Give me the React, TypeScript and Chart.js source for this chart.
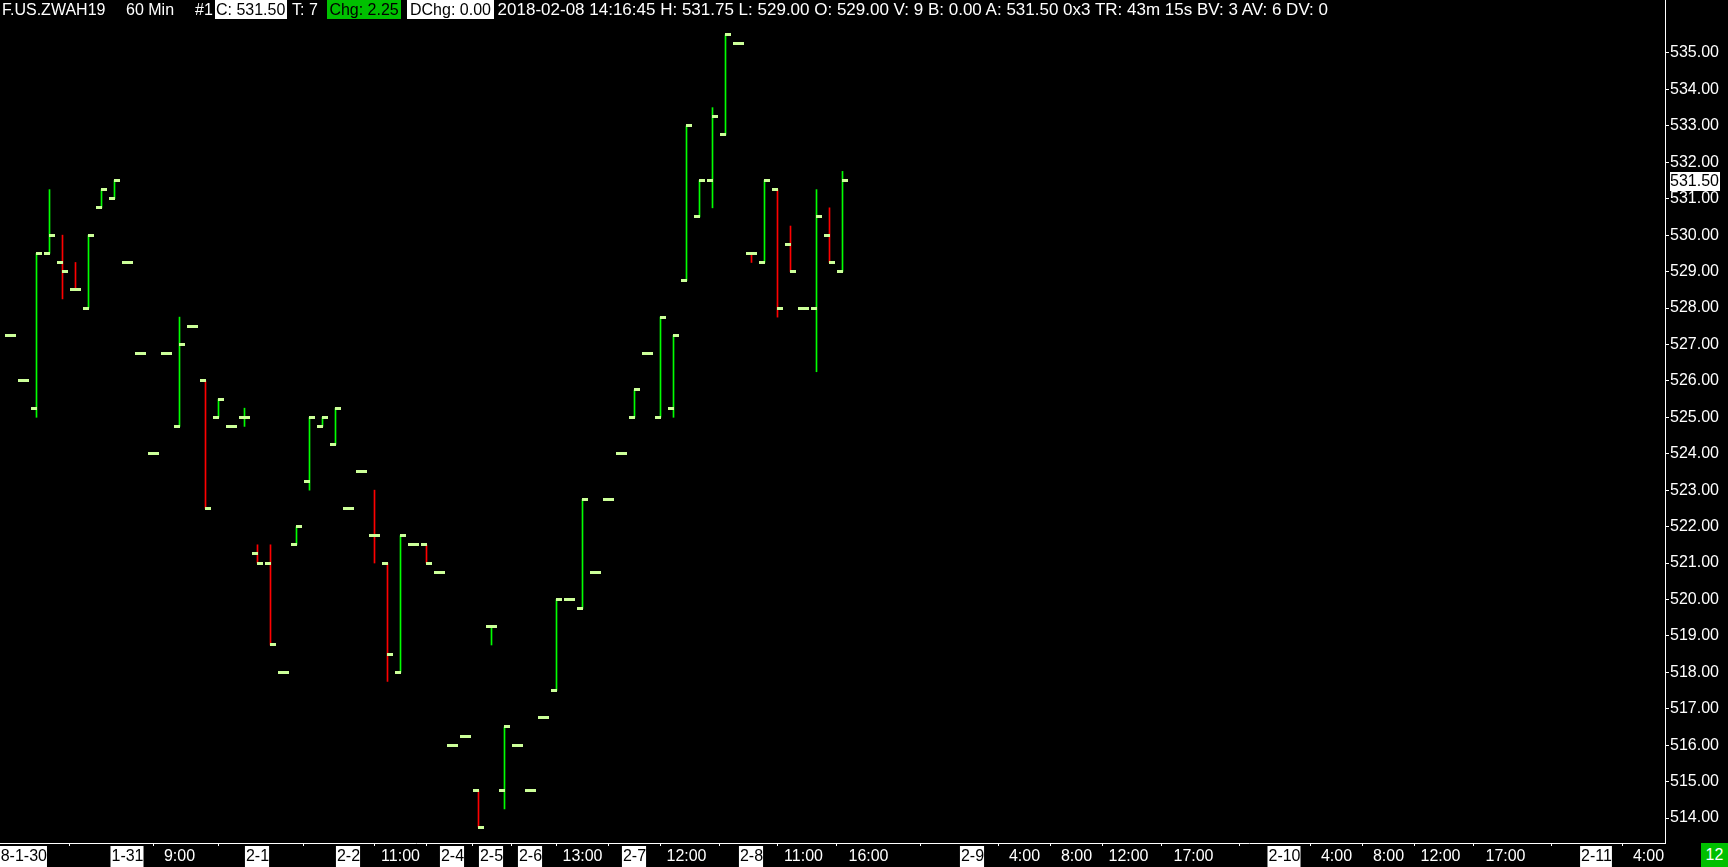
import React, { useEffect, useRef } from 'react';
import { Chart, registerables } from 'chart.js';

Chart.register(...registerables);

// ---- Data: hourly OHLC bars (bar index 0..64) ----
const opens = [
  527.25, 526, 525.25, 529.5, 529.25, 528.5, 528, 530.75, 531,
  529.25, 526.75, 524, 526.75, 524.75, 527.5, 526, 525, 524.75, 525,
  521.25, 521, 518, 521.5, 523.25, 524.75, 524.25,
  522.5, 523.5, 521.75, 521, 518, 521.5, 521.5, 520.75,
  516, 516.25, 514.75,
  519.25, 514.75, 516,
  514.75, 516.75, 517.5, 520, 519.75, 520.75, 522.75, 524,
  525, 526.75, 525, 525.25, 528.75, 530.5, 531.5, 532.75, 535.25,
  529.5, 529.25, 531.25, 529.75, 528, 528, 530, 529,
];
const highs = [
  527.25, 526, 529.5, 531.25, 530, 529.25, 530, 531.25, 531.5,
  529.25, 526.75, 524, 526.75, 527.75, 527.5, 526, 525.5, 524.75, 525.25,
  521.5, 521.5, 518, 522, 525, 525, 525.25,
  522.5, 523.5, 523, 521, 521.75, 521.5, 521.5, 520.75,
  516, 516.25, 514.75,
  519.25, 516.5, 516,
  514.75, 516.75, 520, 520, 522.75, 520.75, 522.75, 524,
  525.75, 526.75, 527.75, 527.25, 533, 531.5, 533.5, 535.5, 535.25,
  529.5, 531.5, 531.25, 530.25, 528, 531.25, 530.75, 531.75,
];
const lows = [
  527.25, 526, 525, 529.5, 528.25, 528.5, 528, 530.75, 531,
  529.25, 526.75, 524, 526.75, 524.75, 527.5, 522.5, 525, 524.75, 524.75,
  521, 518.75, 518, 521.5, 523, 524.75, 524.25,
  522.5, 523.5, 521, 517.75, 518, 521.5, 521, 520.75,
  516, 516.25, 513.75,
  518.75, 514.25, 516,
  514.75, 516.75, 517.5, 520, 519.75, 520.75, 522.75, 524,
  525, 526.75, 525, 525, 528.75, 530.5, 530.75, 532.75, 535.25,
  529.25, 529.25, 527.75, 529, 528, 526.25, 529.25, 529,
];
const closes = [
  527.25, 526, 529.5, 530, 529, 528.5, 530, 531.25, 531.5,
  529.25, 526.75, 524, 526.75, 527, 527.5, 522.5, 525.5, 524.75, 525,
  521, 518.75, 518, 522, 525, 525, 525.25,
  522.5, 523.5, 521.75, 518.5, 521.75, 521.5, 521, 520.75,
  516, 516.25, 513.75,
  519.25, 516.5, 516,
  514.75, 516.75, 520, 520, 522.75, 520.75, 522.75, 524,
  525.75, 526.75, 527.75, 527.25, 533, 531.5, 533.25, 535.5, 535.25,
  529.5, 531.5, 528, 529, 528, 530.5, 529.25, 531.5,
];

// ---- Time axis ticks (bar index -> label) ----
const timeTickIndex = [0, 9, 13, 19, 26, 30, 34, 37, 40, 44, 48, 52, 57, 61, 66, 74, 78, 82, 86, 91, 98, 102, 106, 110, 115, 122, 126];
const timeTickLabels = ['2018-1-30', '1-31', '9:00', '2-1', '2-2', '11:00', '2-4', '2-5', '2-6', '13:00', '2-7', '12:00', '2-8', '11:00', '16:00', '2-9', '4:00', '8:00', '12:00', '17:00', '2-10', '4:00', '8:00', '12:00', '17:00', '2-11', '4:00'];

// ---- Price axis ticks ----
const priceTicks = [514, 515, 516, 517, 518, 519, 520, 521, 522, 523, 524, 525, 526, 527, 528, 529, 530, 531, 532, 533, 534, 535];

// ---- Header text ----
const symbolText = 'F.US.ZWAH19';
const periodText = '60 Min';
const chartNumText = '#1';
const closeText = 'C: 531.50';
const tradesText = 'T: 7';
const changeText = 'Chg: 2.25';
const dayChangeText = 'DChg: 0.00';
const detailText = '2018-02-08 14:16:45 H: 531.75 L: 529.00 O: 529.00 V: 9 B: 0.00 A: 531.50 0x3 TR: 43m 15s BV: 3 AV: 6 DV: 0';
const cornerText = '12';

const FONT = '"Liberation Sans", Arial, sans-serif';
const UP = '#00ff00';
const DOWN = '#ff0000';
const TICK = '#ccff99';
const BOX_GREEN = '#00c000';

const isDateLabel = (s: string) => s.includes('-');

function tickImage(side: 'open' | 'close'): HTMLCanvasElement {
  const c = document.createElement('canvas');
  c.width = 11;
  c.height = 3;
  const g = c.getContext('2d')!;
  g.fillStyle = TICK;
  if (side === 'open') g.fillRect(0, 0, 6, 3);
  else g.fillRect(5, 0, 6, 3);
  return c;
}

export default function App() {
  const ref = useRef<HTMLCanvasElement | null>(null);

  useEffect(() => {
    document.body.style.margin = '0';
    document.body.style.background = '#000';
    document.body.style.overflow = 'hidden';
    const canvas = ref.current!;

    const wickData = highs.map((h, i) => ({ x: i, y: [lows[i], h] }));
    const wickColors = closes.map((c, i) => {
      if (c > opens[i]) return UP;
      if (c < opens[i]) return DOWN;
      const prev = i > 0 ? closes[i - 1] : c;
      return c >= prev ? UP : DOWN;
    });
    const openData = opens.map((o, i) => ({ x: i, y: o }));
    const closeData = closes.map((c, i) => ({ x: i, y: c }));

    const pxPerBar = 13;
    const plotW = 1665;
    const firstBarPx = 10.5;
    const xMin = -firstBarPx / pxPerBar;
    const xMax = xMin + plotW / pxPerBar;

    const pxPerPoint = 36.43;
    const y535 = 53;
    const plotBottom = 843;
    const yMax = 535 + y535 / pxPerPoint;
    const yMin = 535 - (plotBottom - y535) / pxPerPoint;

    const smoothingPlugin = {
      id: 'crispTicks',
      beforeDatasetsDraw(chart: any) { chart.ctx.imageSmoothingEnabled = false; },
      afterDatasetsDraw(chart: any) { chart.ctx.imageSmoothingEnabled = true; },
    };

    const lastPricePlugin = {
      id: 'lastPrice',
      afterDraw(chart: any) {
        const ys = chart.scales.y;
        const last = closes[closes.length - 1];
        const y = ys.getPixelForValue(last);
        const ctx = chart.ctx;
        const top = Math.round(y - 8.5);
        ctx.save();
        ctx.fillStyle = '#ffffff';
        ctx.fillRect(ys.left + 5, top, 50, 19);
        ctx.fillStyle = '#000000';
        ctx.font = '16px ' + FONT;
        ctx.textBaseline = 'middle';
        ctx.textAlign = 'left';
        ctx.fillText(last.toFixed(2), ys.left + 5, top + 10);
        ctx.restore();
      },
    };

    const chart = new Chart(canvas, {
      type: 'bar',
      data: {
        datasets: [
          {
            type: 'bar',
            data: wickData as any,
            backgroundColor: wickColors,
            borderWidth: 0,
            barThickness: 1,
            order: 2,
          } as any,
          {
            type: 'scatter',
            data: openData,
            pointStyle: tickImage('open'),
            pointRadius: 3,
            order: 1,
          } as any,
          {
            type: 'scatter',
            data: closeData,
            pointStyle: tickImage('close'),
            pointRadius: 3,
            order: 1,
          } as any,
        ],
      },
      options: {
        responsive: false,
        animation: false,
        events: [],
        layout: { padding: 0, autoPadding: false },
        plugins: {
          legend: { display: false },
          tooltip: { enabled: false },
          title: { display: false },
        },
        scales: {
          x: {
            type: 'linear',
            position: 'bottom',
            min: xMin,
            max: xMax,
            offset: false,
            grid: { display: true, drawOnChartArea: false, drawTicks: true, tickLength: 3, tickColor: '#ffffff', color: '#ffffff' },
            border: { display: true, color: '#ffffff', width: 1 },
            afterBuildTicks: (s: any) => { s.ticks = timeTickIndex.map((v) => ({ value: v })); },
            afterFit: (s: any) => { s.height = 24; s.paddingLeft = 0; s.paddingRight = 0; },
            ticks: {
              autoSkip: false,
              maxRotation: 0,
              minRotation: 0,
              padding: 1,
              font: { family: FONT, size: 16 },
              color: (c: any) => (isDateLabel(timeTickLabels[c.index] || '') ? '#000000' : '#ffffff'),
              showLabelBackdrop: (c: any) => isDateLabel(timeTickLabels[c.index] || ''),
              backdropColor: '#ffffff',
              backdropPadding: { top: 1, bottom: 2, left: 1, right: 0 },
              callback: (_v: any, i: number) => timeTickLabels[i],
            } as any,
          },
          y: {
            type: 'linear',
            position: 'right',
            min: yMin,
            max: yMax,
            grid: { display: true, drawOnChartArea: false, drawTicks: true, tickLength: 4, tickColor: '#ffffff', color: '#ffffff' },
            border: { display: true, color: '#ffffff', width: 1 },
            afterBuildTicks: (s: any) => { s.ticks = priceTicks.map((v) => ({ value: v })); },
            afterFit: (s: any) => { s.width = 63; s.paddingTop = 0; s.paddingBottom = 0; },
            ticks: {
              padding: 1,
              color: '#ffffff',
              font: { family: FONT, size: 16 },
              callback: (v: any) => Number(v).toFixed(2),
            },
          },
        },
      } as any,
      plugins: [smoothingPlugin, lastPricePlugin],
    });

    return () => chart.destroy();
  }, []);

  const base: React.CSSProperties = {
    position: 'absolute',
    top: 0,
    height: 19,
    lineHeight: '19px',
    fontFamily: FONT,
    fontSize: 16,
    color: '#ffffff',
    whiteSpace: 'pre',
  };
  const whiteBox: React.CSSProperties = { ...base, background: '#ffffff', color: '#000000' };
  const greenBox: React.CSSProperties = { ...base, background: BOX_GREEN, color: '#000000' };

  return (
    <div style={{ position: 'relative', width: 1728, height: 867, background: '#000', overflow: 'hidden' }}>
      <canvas ref={ref} width={1728} height={867} style={{ position: 'absolute', left: 0, top: 0, width: 1728, height: 867 }} />
      <span style={{ ...base, left: 2 }}>{symbolText}</span>
      <span style={{ ...base, left: 126 }}>{periodText}</span>
      <span style={{ ...base, left: 195 }}>{chartNumText}</span>
      <span style={{ ...whiteBox, left: 214.6, padding: '0 1.35px' }}>{closeText}</span>
      <span style={{ ...base, left: 292 }}>{tradesText}</span>
      <span style={{ ...greenBox, left: 326.7, padding: '0 2.7px' }}>{changeText}</span>
      <span style={{ ...whiteBox, left: 407, padding: '0 3px' }}>{dayChangeText}</span>
      <span style={{ ...base, left: 497.6, fontSize: 17 }}>{detailText}</span>
      <div
        style={{
          position: 'absolute', left: 1701, top: 843, width: 27, height: 24, background: BOX_GREEN,
          color: '#ffffff', fontFamily: FONT, fontSize: 16, lineHeight: '24px', textAlign: 'center',
        }}
      >
        {cornerText}
      </div>
    </div>
  );
}
